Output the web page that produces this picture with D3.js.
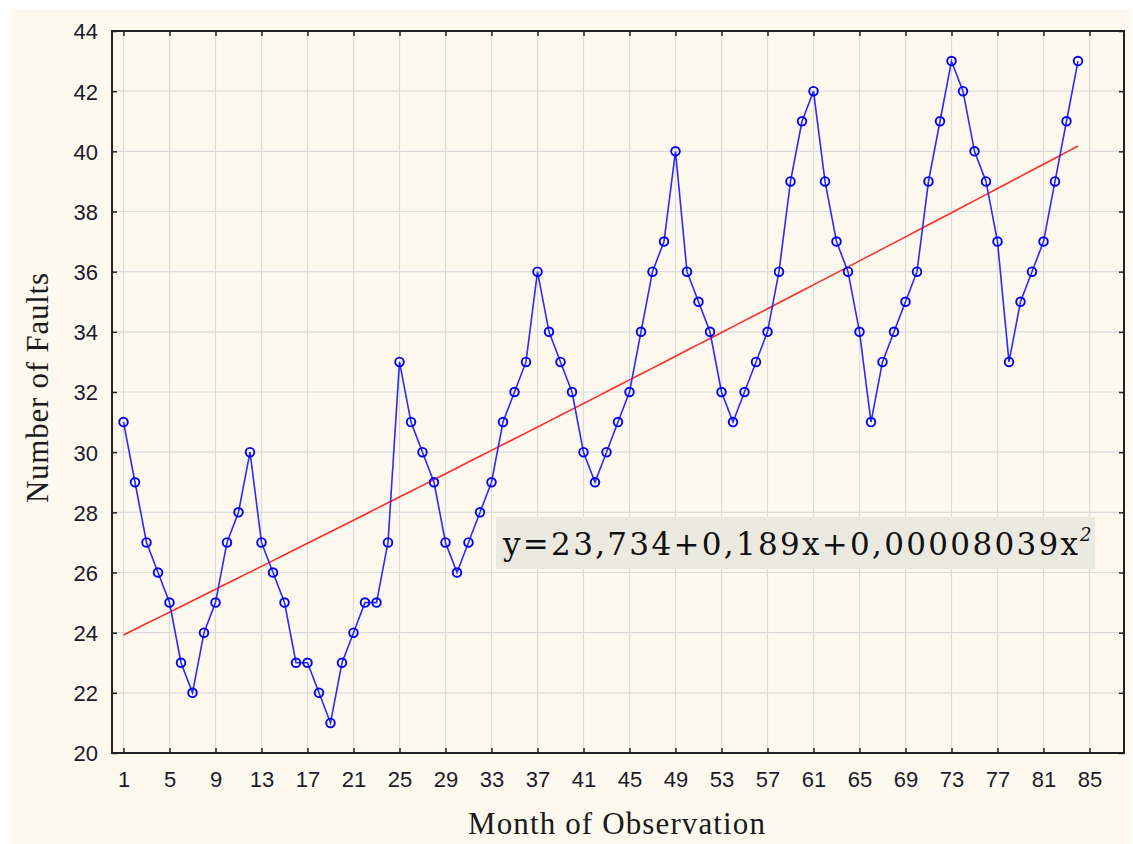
<!DOCTYPE html>
<html>
<head>
<meta charset="utf-8">
<script src="https://cdn.jsdelivr.net/npm/d3@7/dist/d3.min.js"></script>
<style>
  html, body { margin: 0; padding: 0; background: #ffffff; }
  svg { display: block; }
</style>
</head>
<body>
<svg id="chart" width="1133" height="844"></svg>
<script>
// Monthly fault counts, months 1..84
const months = d3.range(1, 85);
const faults = [
  31, 29, 27, 26, 25, 23, 22, 24, 25, 27, 28, 30,
  27, 26, 25, 23, 23, 22, 21, 23, 24, 25, 25, 27,
  33, 31, 30, 29, 27, 26, 27, 28, 29, 31, 32, 33,
  36, 34, 33, 32, 30, 29, 30, 31, 32, 34, 36, 37,
  40, 36, 35, 34, 32, 31, 32, 33, 34, 36, 39, 41,
  42, 39, 37, 36, 34, 31, 33, 34, 35, 36, 39, 41,
  43, 42, 40, 39, 37, 33, 35, 36, 37, 39, 41, 43
];

// Quadratic trend coefficients (as printed on the chart)
const trendCoef = [23.734, 0.189, 0.00008039];
const trendLabel = "y=23,734+0,189x+0,00008039x";

const xTicks = d3.range(1, 86, 4);
const yTicks = d3.range(20, 45, 2);

const svg = d3.select("#chart");
const W = 1133, H = 844;
const plot = { left: 112, top: 31, right: 1124, bottom: 753 };

// page panel
svg.append("rect").attr("x", 10).attr("y", 9).attr("width", W - 11).attr("height", H - 9)
  .attr("fill", "#fdf9ef");

const x = d3.scaleLinear().domain([0, 88]).range([plot.left, plot.right]);
const y = d3.scaleLinear().domain([20, 44]).range([plot.bottom, plot.top]);

// grid
const grid = svg.append("g").attr("stroke", "#dcdcdc").attr("stroke-width", 1.2);
grid.selectAll("line.v").data(xTicks).join("line")
  .attr("x1", d => x(d)).attr("x2", d => x(d))
  .attr("y1", plot.top).attr("y2", plot.bottom);
grid.selectAll("line.h").data(yTicks.slice(1, -1)).join("line")
  .attr("y1", d => y(d)).attr("y2", d => y(d))
  .attr("x1", plot.left).attr("x2", plot.right);

// axes with inward ticks
const tickFont = "'Liberation Sans', Arial, sans-serif";
const axB = svg.append("g").attr("transform", `translate(0,${plot.bottom})`)
  .call(d3.axisBottom(x).tickValues(xTicks).tickSize(-5));
const axT = svg.append("g").attr("transform", `translate(0,${plot.top})`)
  .call(d3.axisTop(x).tickValues(xTicks).tickSize(-5).tickFormat(""));
const axL = svg.append("g").attr("transform", `translate(${plot.left},0)`)
  .call(d3.axisLeft(y).tickValues(yTicks).tickSize(-5));
const axR = svg.append("g").attr("transform", `translate(${plot.right},0)`)
  .call(d3.axisRight(y).tickValues(yTicks).tickSize(-5).tickFormat(""));

[axB, axT, axL, axR].forEach(g => {
  g.select(".domain").remove();
  g.selectAll(".tick line").attr("stroke", "#222").attr("stroke-width", 1.5);
  g.selectAll(".tick text").attr("font-family", tickFont).attr("font-size", 22)
    .attr("fill", "#1b1b2a");
});
axB.selectAll(".tick text").attr("y", 34).attr("dy", 0);
axL.selectAll(".tick text").attr("x", -14).attr("dy", "0.36em");

// frame
svg.append("rect").attr("x", plot.left).attr("y", plot.top)
  .attr("width", plot.right - plot.left).attr("height", plot.bottom - plot.top)
  .attr("fill", "none").attr("stroke", "#222").attr("stroke-width", 2);

// trend curve from the printed coefficients
const trend = months.map(m => [m, trendCoef[0] + trendCoef[1] * m + trendCoef[2] * m * m]);
svg.append("path").datum(trend)
  .attr("fill", "none").attr("stroke", "#ff2a2a").attr("stroke-width", 1.6)
  .attr("d", d3.line().x(d => x(d[0])).y(d => y(d[1])));

// observed series
const pts = months.map((m, i) => [m, faults[i]]);
svg.append("path").datum(pts)
  .attr("fill", "none").attr("stroke", "#2a2aff").attr("stroke-width", 1.6)
  .attr("d", d3.line().x(d => x(d[0])).y(d => y(d[1])));
svg.append("g").selectAll("circle").data(pts).join("circle")
  .attr("cx", d => x(d[0])).attr("cy", d => y(d[1])).attr("r", 4.3)
  .attr("fill", "none").attr("stroke", "#0000ff").attr("stroke-width", 1.9);

// equation label
svg.append("rect").attr("x", 496).attr("y", 517).attr("width", 599).attr("height", 52)
  .attr("fill", "#ebeae1");
const eqFont = "'DejaVu Serif', 'Liberation Serif', serif";
svg.append("text").attr("x", 503).attr("y", 555)
  .attr("font-family", eqFont).attr("font-size", 31)
  .attr("textLength", 575).attr("lengthAdjust", "spacing")
  .attr("fill", "#111").text(trendLabel);
svg.append("text").attr("x", 1080).attr("y", 541)
  .attr("font-family", eqFont).attr("font-size", 18).attr("font-style", "italic")
  .attr("fill", "#111").text("2");

// axis titles
const titleFont = "'Liberation Serif', 'Times New Roman', serif";
svg.append("text").attr("x", 468).attr("y", 834)
  .attr("font-family", titleFont).attr("font-size", 31)
  .attr("textLength", 297).attr("lengthAdjust", "spacing")
  .attr("fill", "#1a1a1a").text("Month of Observation");
svg.append("text").attr("transform", `translate(48,503) rotate(-90)`)
  .attr("font-family", titleFont).attr("font-size", 31)
  .attr("textLength", 230).attr("lengthAdjust", "spacing")
  .attr("fill", "#1a1a1a").text("Number of Faults");
</script>
</body>
</html>
